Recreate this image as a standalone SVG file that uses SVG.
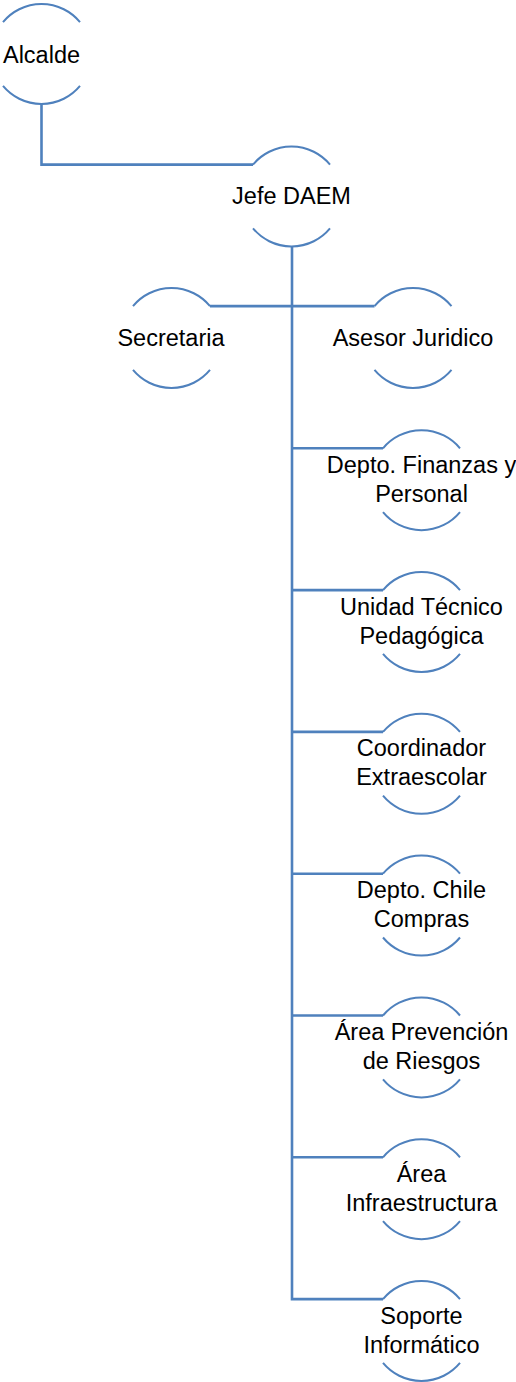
<svg xmlns="http://www.w3.org/2000/svg" width="516" height="1382" viewBox="0 0 516 1382">
<style>
.arc{fill:none;stroke:#4F81BD;stroke-width:2}
.conn{fill:none;stroke:#4F81BD;stroke-width:2.6}
text{font-family:"Liberation Sans",Arial,sans-serif;font-size:23.5px;fill:#000;text-anchor:middle}
</style>
<rect width="516" height="1382" fill="#fff"/>
<g id="connectors">
<path class="conn" d="M41.5 104 V164.6 H253"/>
<path class="conn" d="M292 246 V1299.1 H383"/>
<path class="conn" d="M210 306.1 H374.5"/>
<path class="conn" d="M292 448.3 H383"/>
<path class="conn" d="M292 590.1 H383"/>
<path class="conn" d="M292 731.9 H383"/>
<path class="conn" d="M292 873.7 H383"/>
<path class="conn" d="M292 1015.5 H383"/>
<path class="conn" d="M292 1157.3 H383"/>
</g>
<g id="alcalde">
<path class="arc" d="M3 22.1 A50 50 0 0 1 80 22.1 M3 85.9 A50 50 0 0 0 80 85.9"/>
<text x="41.5" y="63">Alcalde</text>
</g>
<g id="jefe">
<path class="arc" d="M253 164.6 A50 50 0 0 1 330 164.6 M253 228.4 A50 50 0 0 0 330 228.4"/>
<text x="291.5" y="204">Jefe DAEM</text>
</g>
<g id="secretaria">
<path class="arc" d="M133 306.1 A50 50 0 0 1 210 306.1 M133 369.9 A50 50 0 0 0 210 369.9"/>
<text x="171" y="346">Secretaria</text>
</g>
<g id="asesor">
<path class="arc" d="M374.5 306.1 A50 50 0 0 1 451.5 306.1 M374.5 369.9 A50 50 0 0 0 451.5 369.9"/>
<text x="413" y="346">Asesor Juridico</text>
</g>
<g id="finanzas">
<path class="arc" d="M383 448.3 A50 50 0 0 1 460 448.3 M383 512.1 A50 50 0 0 0 460 512.1"/>
<text x="421.5" y="472.8">Depto. Finanzas y</text>
<text x="421.5" y="501.8">Personal</text>
</g>
<g id="utp">
<path class="arc" d="M383 590.1 A50 50 0 0 1 460 590.1 M383 653.9 A50 50 0 0 0 460 653.9"/>
<text x="421.5" y="614.6">Unidad Técnico</text>
<text x="421.5" y="643.6">Pedagógica</text>
</g>
<g id="extraescolar">
<path class="arc" d="M383 731.9 A50 50 0 0 1 460 731.9 M383 795.7 A50 50 0 0 0 460 795.7"/>
<text x="421.5" y="756.4">Coordinador</text>
<text x="421.5" y="785.4">Extraescolar</text>
</g>
<g id="chilecompras">
<path class="arc" d="M383 873.7 A50 50 0 0 1 460 873.7 M383 937.5 A50 50 0 0 0 460 937.5"/>
<text x="421.5" y="898.2">Depto. Chile</text>
<text x="421.5" y="927.2">Compras</text>
</g>
<g id="prevencion">
<path class="arc" d="M383 1015.5 A50 50 0 0 1 460 1015.5 M383 1079.3 A50 50 0 0 0 460 1079.3"/>
<text x="421.5" y="1040">Área Prevención</text>
<text x="421.5" y="1069">de Riesgos</text>
</g>
<g id="infraestructura">
<path class="arc" d="M383 1157.3 A50 50 0 0 1 460 1157.3 M383 1221.1 A50 50 0 0 0 460 1221.1"/>
<text x="421.5" y="1181.8">Área</text>
<text x="421.5" y="1210.8">Infraestructura</text>
</g>
<g id="soporte">
<path class="arc" d="M383 1299.1 A50 50 0 0 1 460 1299.1 M383 1362.9 A50 50 0 0 0 460 1362.9"/>
<text x="421.5" y="1323.6">Soporte</text>
<text x="421.5" y="1352.6">Informático</text>
</g>
</svg>
